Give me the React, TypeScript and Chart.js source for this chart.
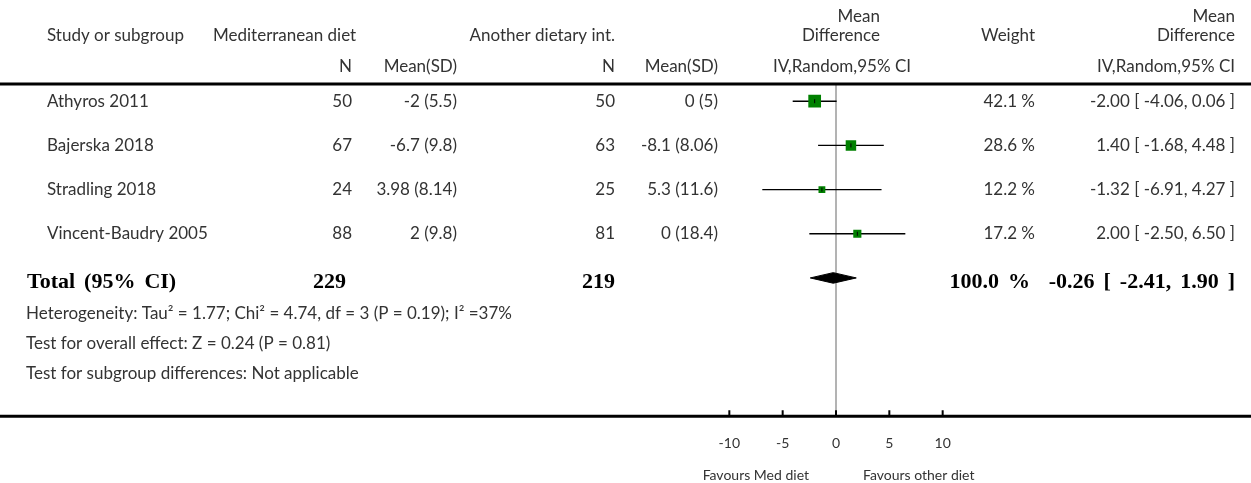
import React, { useEffect, useRef } from "react";
import { Chart, registerables } from "chart.js";

Chart.register(...registerables);

// ---------------- data ----------------
const STUDIES = ["Athyros 2011", "Bajerska 2018", "Stradling 2018", "Vincent-Baudry 2005"];
const MED_N = [50, 67, 24, 88];
const MED_MEAN_SD = ["-2 (5.5)", "-6.7 (9.8)", "3.98 (8.14)", "2 (9.8)"];
const OTHER_N = [50, 63, 25, 81];
const OTHER_MEAN_SD = ["0 (5)", "-8.1 (8.06)", "5.3 (11.6)", "0 (18.4)"];
const MEAN_DIFF = [-2.0, 1.4, -1.32, 2.0];
const CI_LOW = [-4.06, -1.68, -6.91, -2.5];
const CI_HIGH = [0.06, 4.48, 4.27, 6.5];
const WEIGHTS = [42.1, 28.6, 12.2, 17.2];

const TOTAL_LABEL = "Total (95% CI)";
const TOTAL_MED_N = 229;
const TOTAL_OTHER_N = 219;
const TOTAL_WEIGHT = 100.0;
const TOTAL_MD = -0.26;
const TOTAL_LOW = -2.41;
const TOTAL_HIGH = 1.9;

const X_TICKS = [-10, -5, 0, 5, 10];
const FAVOURS_LEFT = "Favours Med diet";
const FAVOURS_RIGHT = "Favours other diet";

const FOOTNOTES = [
  "Heterogeneity: Tau\u00b2 = 1.77; Chi\u00b2 = 4.74, df = 3 (P = 0.19); I\u00b2 =37%",
  "Test for overall effect: Z = 0.24 (P = 0.81)",
  "Test for subgroup differences: Not applicable",
];

// ---------------- layout / style ----------------
const W = 1251;
const H = 483;
const SANS = "Lato, 'Open Sans', sans-serif";
const SERIF = "'Liberation Serif', 'Times New Roman', serif";
const TEXT = "#333333";
const GREEN = "#008000";
const FONT_PX = 17;
const BOLD_PX = 22;
const TICK_PX = 14;

const COL = {
  study: 47,
  medHeader: 213,
  medN: 352,
  medMean: 457,
  otherN: 615,
  otherMean: 718,
  mdHeader: 880,
  mdSub: 911,
  weight: 1035,
  ci: 1235,
  total: 27,
  totalMedN: 346,
  totalWeight: 1030,
};

const fmt2 = (v: number) => v.toFixed(2);
const ciText = (m: number, lo: number, hi: number) => `${fmt2(m)} [ ${fmt2(lo)}, ${fmt2(hi)} ]`;

const forestPlugin = {
  id: "forestTable",
  beforeDatasetsDraw(chart: any) {
    const { ctx, chartArea, scales } = chart;
    const x0 = scales.x.getPixelForValue(0);
    ctx.save();
    ctx.strokeStyle = "#9a9a9a";
    ctx.lineWidth = 1.5;
    ctx.beginPath();
    ctx.moveTo(x0, chartArea.top);
    ctx.lineTo(x0, chartArea.bottom);
    ctx.stroke();
    ctx.restore();
  },
  afterDraw(chart: any) {
    const { ctx, chartArea, scales } = chart;
    const xs = scales.x;
    const ys = scales.y;
    ctx.save();

    // thick rules
    ctx.strokeStyle = "#000";
    ctx.lineWidth = 3;
    ctx.beginPath();
    ctx.moveTo(0, chartArea.top);
    ctx.lineTo(W, chartArea.top);
    ctx.moveTo(0, chartArea.bottom);
    ctx.lineTo(W, chartArea.bottom);
    ctx.stroke();

    // tick marks (pointing up)
    ctx.lineWidth = 2;
    ctx.beginPath();
    X_TICKS.forEach((v) => {
      const px = xs.getPixelForValue(v);
      ctx.moveTo(px, chartArea.bottom - 6);
      ctx.lineTo(px, chartArea.bottom);
    });
    ctx.stroke();

    const t = (
      s: string,
      x: number,
      y: number,
      align: CanvasTextAlign,
      font: string,
      color = TEXT,
      wordSpacing = "0px"
    ) => {
      ctx.font = font;
      ctx.fillStyle = color;
      ctx.textAlign = align;
      ctx.textBaseline = "middle";
      if ("wordSpacing" in ctx) (ctx as any).wordSpacing = wordSpacing;
      ctx.fillText(s, x, y);
    };
    const f = `${FONT_PX}px ${SANS}`;
    const fb = `bold ${BOLD_PX}px ${SERIF}`;
    const ws = "3.5px";

    // headers
    const h1 = chartArea.top - 67;
    const h2 = chartArea.top - 48;
    const h3 = chartArea.top - 17;
    t("Mean", COL.mdHeader, h1, "right", f);
    t("Mean", COL.ci, h1, "right", f);
    t("Study or subgroup", COL.study, h2, "left", f);
    t("Mediterranean diet", COL.medHeader, h2, "left", f);
    t("Another dietary int.", COL.otherN, h2, "right", f);
    t("Difference", COL.mdHeader, h2, "right", f);
    t("Weight", COL.weight, h2, "right", f);
    t("Difference", COL.ci, h2, "right", f);
    t("N", COL.medN, h3, "right", f);
    t("Mean(SD)", COL.medMean, h3, "right", f);
    t("N", COL.otherN, h3, "right", f);
    t("Mean(SD)", COL.otherMean, h3, "right", f);
    t("IV,Random,95% CI", COL.mdSub, h3, "right", f);
    t("IV,Random,95% CI", COL.ci, h3, "right", f);

    // study rows
    STUDIES.forEach((name, i) => {
      const y = ys.getPixelForValue(i);
      t(name, COL.study, y, "left", f);
      t(String(MED_N[i]), COL.medN, y, "right", f);
      t(MED_MEAN_SD[i], COL.medMean, y, "right", f);
      t(String(OTHER_N[i]), COL.otherN, y, "right", f);
      t(OTHER_MEAN_SD[i], COL.otherMean, y, "right", f);
      t(`${WEIGHTS[i].toFixed(1)} %`, COL.weight, y, "right", f);
      t(ciText(MEAN_DIFF[i], CI_LOW[i], CI_HIGH[i]), COL.ci, y, "right", f);
    });

    // total row
    const yt = ys.getPixelForValue(STUDIES.length);
    const ytt = yt + 4;
    t(TOTAL_LABEL, COL.total, ytt, "left", fb, "#000", ws);
    t(String(TOTAL_MED_N), COL.totalMedN, ytt, "right", fb, "#000", ws);
    t(String(TOTAL_OTHER_N), COL.otherN, ytt, "right", fb, "#000", ws);
    t(`${TOTAL_WEIGHT.toFixed(1)} %`, COL.totalWeight, ytt, "right", fb, "#000", ws);
    t(ciText(TOTAL_MD, TOTAL_LOW, TOTAL_HIGH), COL.ci, ytt, "right", fb, "#000", ws);

    // footnotes
    FOOTNOTES.forEach((s, k) => {
      t(s, COL.total - 1, yt + 36 + 30 * k, "left", f);
    });

    // favours labels
    const x0 = xs.getPixelForValue(0);
    const yf = chartArea.bottom + 59;
    t(FAVOURS_LEFT, x0 - 27, yf, "right", `${TICK_PX}px ${SANS}`);
    t(FAVOURS_RIGHT, x0 + 27, yf, "left", `${TICK_PX}px ${SANS}`);

    ctx.restore();
  },
};

export default function App() {
  const ref = useRef<HTMLCanvasElement | null>(null);

  useEffect(() => {
    if (!ref.current) return;
    const datasets: any[] = [];

    // CI whiskers
    STUDIES.forEach((s, i) => {
      datasets.push({
        label: `${s} CI`,
        data: [
          { x: CI_LOW[i], y: i },
          { x: CI_HIGH[i], y: i },
        ],
        showLine: true,
        borderColor: "#000",
        borderWidth: 1.3,
        pointRadius: 0,
        order: 3,
      });
    });

    // weighted squares
    datasets.push({
      label: "Mean difference",
      data: MEAN_DIFF.map((m, i) => ({ x: m, y: i })),
      pointStyle: "rect",
      pointRadius: WEIGHTS.map((w) => (1.96 * Math.sqrt(w)) / Math.SQRT2),
      backgroundColor: GREEN,
      borderColor: GREEN,
      borderWidth: 0,
      order: 2,
    });

    // point estimate tick
    datasets.push({
      label: "Estimate",
      data: MEAN_DIFF.map((m, i) => ({ x: m, y: i })),
      pointStyle: "line",
      rotation: 90,
      pointRadius: 2,
      borderColor: "#000",
      borderWidth: 1,
      order: 1,
    });

    // pooled diamond
    const yT = STUDIES.length;
    const hh = 0.12;
    datasets.push({
      label: "Total",
      data: [
        { x: TOTAL_LOW, y: yT },
        { x: TOTAL_MD, y: yT - hh },
        { x: TOTAL_HIGH, y: yT },
        { x: TOTAL_MD, y: yT + hh },
        { x: TOTAL_LOW, y: yT },
      ],
      showLine: true,
      fill: "shape",
      tension: 0,
      backgroundColor: "#000",
      borderColor: "#000",
      borderWidth: 1,
      pointRadius: 0,
      order: 4,
    });

    const chart = new Chart(ref.current, {
      type: "scatter",
      data: { datasets },
      options: {
        animation: false,
        responsive: false,
        devicePixelRatio: 1,
        events: [],
        layout: { padding: { left: 676, right: 255, top: 84, bottom: 12 } },
        plugins: { legend: { display: false }, tooltip: { enabled: false } },
        scales: {
          x: {
            type: "linear",
            min: -15,
            max: 15,
            afterBuildTicks: (scale: any) => {
              scale.ticks = X_TICKS.map((v) => ({ value: v }));
            },
            grid: { display: false, drawTicks: false },
            border: { display: false },
            ticks: {
              padding: 19,
              color: TEXT,
              font: { family: SANS, size: TICK_PX },
              callback: (v: any) => String(v),
            },
          },
          y: {
            type: "linear",
            reverse: true,
            min: -0.39,
            max: 7.13,
            display: false,
          },
        },
      },
      plugins: [forestPlugin],
    } as any);
    return () => chart.destroy();
  }, []);

  return (
    <div style={{ position: "absolute", left: 0, top: 0, width: W, height: H, background: "#fff" }}>
      <canvas ref={ref} width={W} height={H} style={{ display: "block" }} />
    </div>
  );
}
